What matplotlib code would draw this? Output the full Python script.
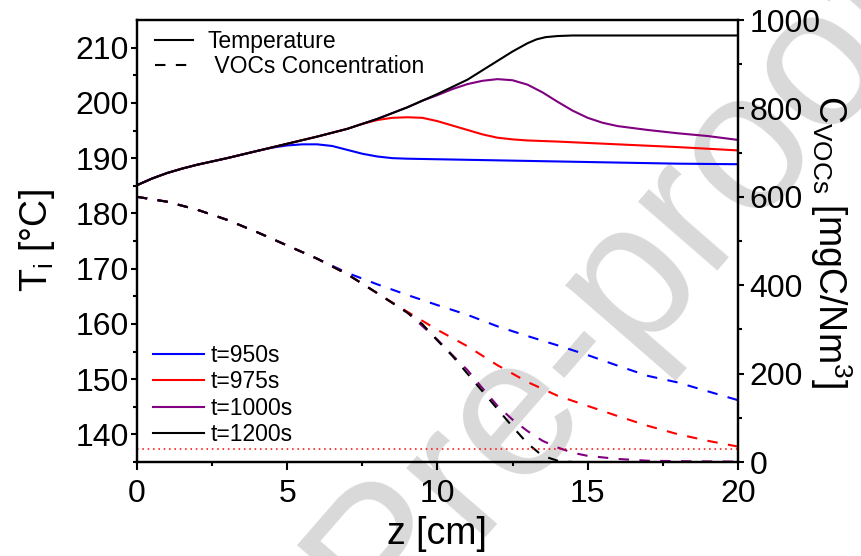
import matplotlib.pyplot as plt
from matplotlib.lines import Line2D

plt.rcParams['font.family'] = ['Liberation Sans', 'DejaVu Sans']
plt.rcParams['mathtext.default'] = 'regular'

# temperature profiles [°C] along z [cm]
z_t1200 = [0, 0.5, 1, 1.5, 2, 3, 4, 5, 6, 7, 8, 9, 10, 11, 11.5, 12, 12.5, 13, 13.3, 13.6, 14, 14.5, 15, 17, 20]
T_1200 = [185.1, 186.3, 187.3, 188.1, 188.8, 190.0, 191.3, 192.6, 193.9, 195.3, 197.1, 199.2, 201.6,
          204.2, 205.9, 207.6, 209.3, 210.8, 211.5, 211.9, 212.1, 212.2, 212.2, 212.2, 212.2]

z_t950 = [0, 0.5, 1, 1.5, 2, 3, 4, 4.5, 5, 5.5, 6, 6.5, 7, 7.5, 8, 8.5, 9, 10, 12, 14, 16, 18, 20]
T_950 = [185.1, 186.3, 187.3, 188.1, 188.8, 190.0, 191.3, 191.9, 192.3, 192.5, 192.5, 192.2, 191.5,
         190.8, 190.3, 190.0, 189.9, 189.8, 189.6, 189.4, 189.2, 189.0, 188.9]

z_t975 = [0, 0.5, 1, 1.5, 2, 3, 4, 5, 6, 7, 7.5, 8, 8.5, 9, 9.5, 10, 10.5, 11, 11.5, 12, 12.5, 13,
          14, 16, 18, 20]
T_975 = [185.1, 186.3, 187.3, 188.1, 188.8, 190.0, 191.3, 192.6, 193.9, 195.3, 196.2, 196.9, 197.3,
         197.4, 197.3, 196.7, 195.9, 195.1, 194.3, 193.7, 193.4, 193.2, 193.0, 192.5, 192.0, 191.4]

z_t1000 = [0, 0.5, 1, 1.5, 2, 3, 4, 5, 6, 7, 8, 9, 9.5, 10, 10.5, 11, 11.5, 12, 12.5, 13, 13.5, 14,
           14.5, 15, 15.5, 16, 17, 18, 19, 20]
T_1000 = [185.1, 186.3, 187.3, 188.1, 188.8, 190.0, 191.3, 192.6, 193.9, 195.3, 197.1, 199.2, 200.4,
          201.4, 202.5, 203.4, 204.0, 204.3, 204.1, 203.3, 201.9, 200.2, 198.6, 197.3, 196.4, 195.8,
          195.1, 194.5, 194.0, 193.3]

# VOCs concentration [mgC/Nm3] along z [cm]
z_c950 = [0, 1, 2, 3, 4, 5, 6, 7, 8, 9, 10, 11, 12, 13, 14, 15, 16, 17, 18, 19, 20]
C_950 = [600, 589, 571, 548, 520, 490, 460, 428, 402, 378, 355, 333, 307, 285, 264, 242, 218,
         195, 180, 160, 140]

z_c975 = [0, 1, 2, 3, 4, 5, 6, 7, 8, 9, 10, 11, 12, 13, 14, 15, 16, 17, 18, 19, 20]
C_975 = [600, 589, 571, 548, 520, 490, 460, 425, 382, 340, 299, 262, 219, 181, 150, 127, 104,
         82, 63, 48, 35]

z_c1000 = [0, 1, 2, 3, 4, 5, 6, 7, 8, 9, 10, 10.5, 11, 11.5, 12, 12.5, 13, 13.5, 14, 14.5, 15,
           16, 17, 18, 20]
C_1000 = [600, 589, 571, 548, 520, 490, 460, 425, 382, 338, 277, 242, 208, 167, 127, 96, 70, 48,
          33, 21, 14, 7, 3, 2, 1]

z_c1200 = [0, 1, 2, 3, 4, 5, 6, 7, 8, 9, 9.5, 10, 10.5, 11, 11.5, 12, 12.5, 13, 13.5, 14, 14.5, 20]
C_1200 = [600, 589, 571, 548, 520, 490, 460, 425, 382, 338, 312, 275, 240, 200, 160, 120, 80, 42,
          14, 3, 0, 0]

C_limit = 29

labels = ['t=950s', 't=975s', 't=1000s', 't=1200s']
colors = ['#0000ff', '#ff0000', '#800080', '#000000']

temps = [(z_t950, T_950), (z_t975, T_975), (z_t1000, T_1000), (z_t1200, T_1200)]
concs = [(z_c950, C_950), (z_c975, C_975), (z_c1000, C_1000), (z_c1200, C_1200)]

fig = plt.figure(figsize=(8.61, 5.56), dpi=100)
ax = fig.add_axes([0.159, 0.169, 0.698, 0.795])
ax.patch.set_visible(False)
ax2 = ax.twinx()
ax2.patch.set_visible(False)

# watermark behind everything
fig.text(0.455, -0.02, 'Journal Pre-proof', fontsize=143, color='#d9d9d9', rotation=49,
         rotation_mode='anchor', ha='center', va='center', zorder=-10)

dash = (0, (5, 5))
for (zt, T), (zc, C), c, lab in zip(temps, concs, colors, labels):
    ax.plot(zt, T, color=c, lw=1.5, label=lab)
    ax2.plot(zc, C, color=c, lw=1.5, linestyle=dash)

ax2.axhline(C_limit, color='#ff0000', lw=1.1, linestyle=(0, (1, 2.5)))

ax.set_xlim(0, 20)
ax.set_ylim(135, 215)
ax2.set_ylim(0, 1000)
ax.set_xticks([0, 5, 10, 15, 20])
ax.set_xticks([2.5, 7.5, 12.5, 17.5], minor=True)
ax.set_yticks(range(140, 211, 10))
ax.set_yticks(range(135, 215, 10), minor=True)
ax2.set_yticks(range(0, 1001, 200))
ax2.set_yticks(range(100, 1000, 200), minor=True)

for a in (ax, ax2):
    a.tick_params(which='major', direction='out', length=4.5, width=1.5, labelsize=23, pad=1.5)
    a.tick_params(which='minor', direction='out', length=3, width=1.5)
    for s in a.spines.values():
        s.set_linewidth(1.6)
ax.tick_params(axis='x', which='major', length=6, pad=6)
ax2.tick_params(axis='y', pad=4)

ax.set_xlabel('z [cm]', fontsize=27, labelpad=5)
ax.set_ylabel('T$_i$ [°C]', fontsize=27, labelpad=13)
ax2.set_ylabel('C$_{VOCs}$ [mgC/Nm$^3$]', fontsize=27, rotation=270, labelpad=24)

leg1 = ax.legend(loc='lower left', bbox_to_anchor=(0.027, 0.036), frameon=False, fontsize=16.5,
                 handlelength=2.2, handletextpad=0.3, labelspacing=0.15, borderaxespad=0,
                 borderpad=0)
handles = [Line2D([], [], color='k', lw=1.5),
           Line2D([], [], color='k', lw=1.5, linestyle=dash)]
leg2 = ax2.legend(handles, ['Temperature', ' VOCs Concentration'], loc='upper left',
                  bbox_to_anchor=(0.03, 0.977), frameon=False, fontsize=16.5, handlelength=1.66,
                  handletextpad=0.65, labelspacing=0.1, borderaxespad=0, borderpad=0)

fig.savefig('out.png', dpi=100)
